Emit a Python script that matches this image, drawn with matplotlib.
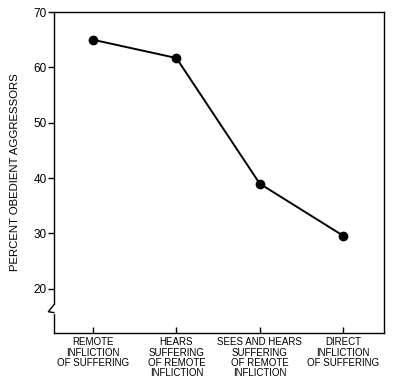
import matplotlib.pyplot as plt
from matplotlib.lines import Line2D
from matplotlib.patches import Rectangle

plt.rcParams['font.family'] = ['Liberation Sans', 'DejaVu Sans']

conditions = ["REMOTE\nINFLICTION\nOF SUFFERING",
              "HEARS\nSUFFERING\nOF REMOTE\nINFLICTION",
              "SEES AND HEARS\nSUFFERING\nOF REMOTE\nINFLICTION",
              "DIRECT\nINFLICTION\nOF SUFFERING"]
obedient_pct = [65, 61.7, 39, 29.6]
y_ticks = [20, 30, 40, 50, 60, 70]

fig = plt.figure(figsize=(4.02, 3.90), dpi=100)
ax = fig.add_axes([0.134, 0.146, 0.821, 0.823])

x = list(range(len(conditions)))
ax.plot(x, obedient_pct, color="black", lw=1.4, marker="o", markersize=6)

ax.set_xlim(-0.47, 3.49)
ax.set_ylim(12, 70)
ax.set_yticks(y_ticks)
ax.set_xticks(x)
ax.set_xticklabels(conditions, fontsize=7, linespacing=1.05)
ax.tick_params(axis="y", direction="out", length=4, width=1, labelsize=8.5, pad=1)
ax.tick_params(axis="x", direction="in", length=4, width=1, pad=3)
for s in ax.spines.values():
    s.set_linewidth(1)
ax.set_ylabel("PERCENT OBEDIENT AGGRESSORS", fontsize=8.2, labelpad=10)

# axis break on the left spine
ax.add_patch(Rectangle((-0.01, 15.7), 0.02, 1.4, transform=ax.get_yaxis_transform(),
                       color="white", clip_on=False, zorder=5))
ax.add_line(Line2D([0, -0.0167, 0],
                   [17.1, 15.85, 15.7],
                   transform=ax.get_yaxis_transform(), color="black", lw=1,
                   clip_on=False, zorder=6))

fig.savefig("out.png", dpi=100)
